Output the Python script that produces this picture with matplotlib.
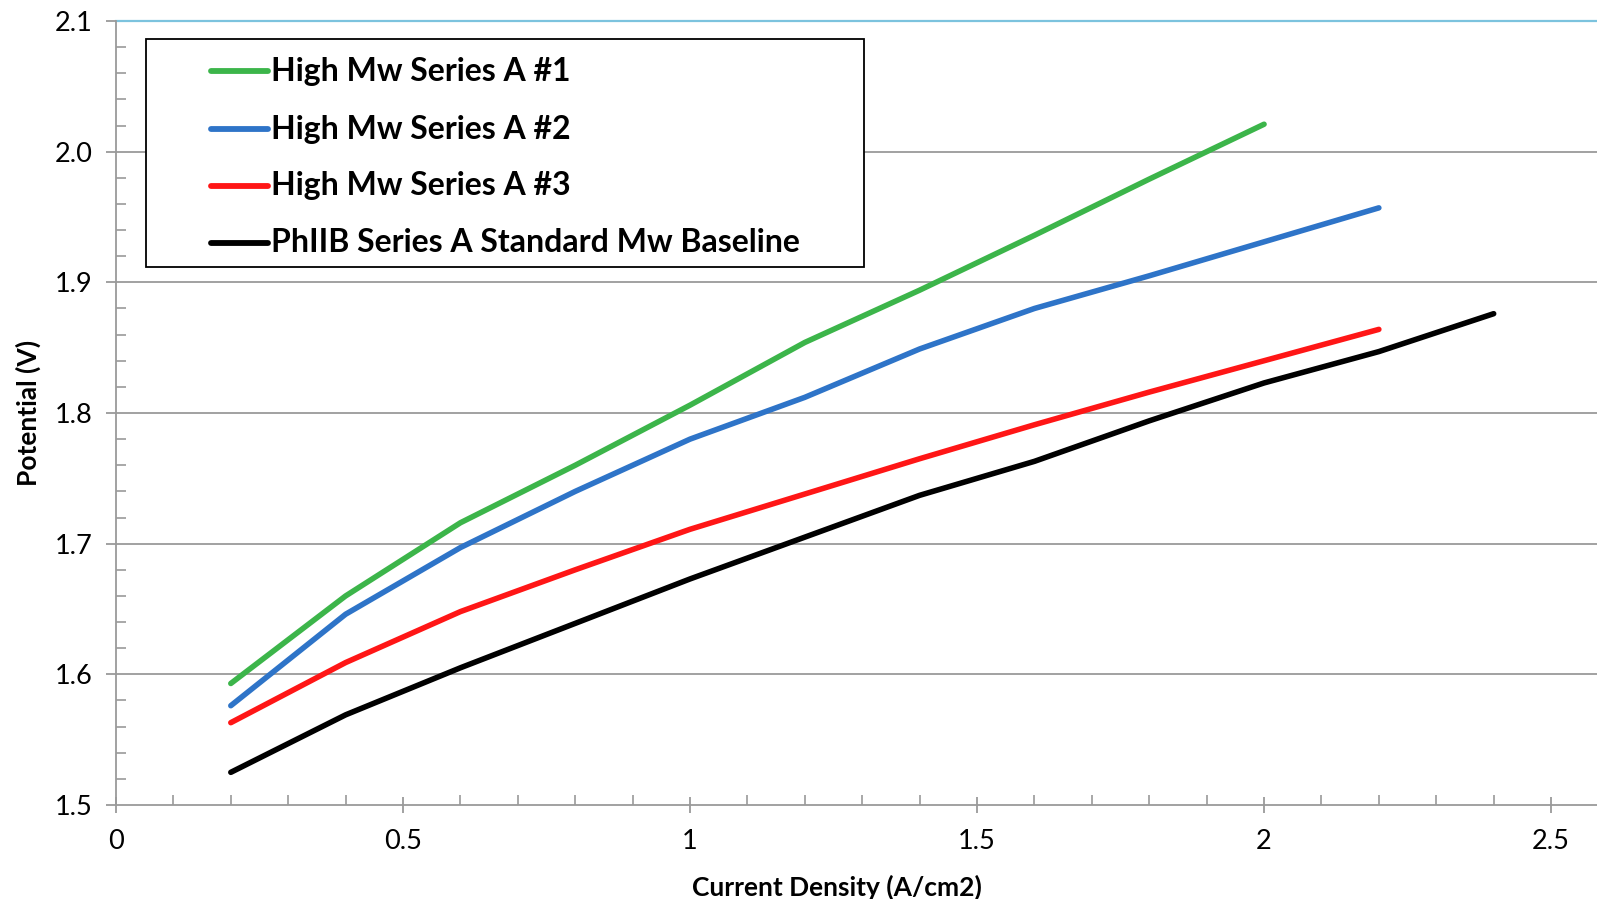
import matplotlib.pyplot as plt
from matplotlib.lines import Line2D
from matplotlib.patches import Rectangle
from matplotlib.ticker import MultipleLocator

plt.rcParams['font.family'] = ['Lato', 'DejaVu Sans']

# current density (A/cm2) and cell potential (V)
x_a1 = [0.2, 0.4, 0.6, 0.8, 1.0, 1.2, 1.4, 1.6, 1.8, 2.0]
y_a1 = [1.593, 1.660, 1.716, 1.760, 1.806, 1.854, 1.894, 1.936, 1.979, 2.021]

x_a2 = [0.2, 0.4, 0.6, 0.8, 1.0, 1.2, 1.4, 1.6, 1.8, 2.0, 2.2]
y_a2 = [1.576, 1.646, 1.697, 1.740, 1.780, 1.812, 1.849, 1.880, 1.905, 1.931, 1.957]

x_a3 = [0.2, 0.4, 0.6, 0.8, 1.0, 1.2, 1.4, 1.6, 1.8, 2.0, 2.2]
y_a3 = [1.563, 1.609, 1.648, 1.680, 1.711, 1.738, 1.765, 1.791, 1.816, 1.840, 1.864]

x_base = [0.2, 0.4, 0.6, 0.8, 1.0, 1.2, 1.4, 1.6, 1.8, 2.0, 2.2, 2.4]
y_base = [1.525, 1.569, 1.605, 1.639, 1.673, 1.705, 1.737, 1.763, 1.794, 1.823, 1.847, 1.876]

labels = ["High Mw Series A #1", "High Mw Series A #2", "High Mw Series A #3",
          "PhIIB Series A Standard Mw Baseline"]
colors = ["#3cb54a", "#2e74c8", "#ff1616", "#000000"]

W, H = 1597, 899
fig = plt.figure(figsize=(W / 100, H / 100), dpi=100)
ax = fig.add_axes([116 / W, 1 - 805 / H, 1 - 116 / W, (805 - 21) / H])

grey = "#9a9a9a"
for yv in [1.6, 1.7, 1.8, 1.9, 2.0]:
    ax.axhline(yv, color=grey, lw=1.3, zorder=1)
ax.axhline(2.1, color="#7cc3de", lw=1.6, zorder=1, clip_on=False)

series = [(x_a1, y_a1), (x_a2, y_a2), (x_a3, y_a3), (x_base, y_base)]
for (xs, ys), c in zip(series, colors):
    ax.plot(xs, ys, color=c, lw=4.0, solid_capstyle='round', solid_joinstyle='round', zorder=3)

ax.set_xlim(0, 2.58)
ax.set_ylim(1.5, 2.1)
ax.xaxis.set_minor_locator(MultipleLocator(0.1))
ax.yaxis.set_minor_locator(MultipleLocator(0.02))
ax.set_xticks([0, 0.5, 1, 1.5, 2, 2.5])
ax.set_xticklabels(["0", "0.5", "1", "1.5", "2", "2.5"])
ax.set_yticks([1.5, 1.6, 1.7, 1.8, 1.9, 2.0, 2.1])
ax.set_yticklabels(["1.5", "1.6", "1.7", "1.8", "1.9", "2.0", "2.1"])

for s in ["top", "right"]:
    ax.spines[s].set_visible(False)
for s in ["left", "bottom"]:
    ax.spines[s].set_color(grey)
    ax.spines[s].set_linewidth(1.3)

ax.tick_params(axis='x', which='major', direction='inout', length=12, width=1.3,
               color=grey, labelsize=19.5, pad=11)
ax.tick_params(axis='y', which='major', direction='out', length=7, width=1.3,
               color=grey, labelsize=19.5, pad=10)
ax.tick_params(which='minor', direction='in', length=7, width=1.2, color=grey)

ax.set_xlabel("Current Density (A/cm2)", fontsize=19, fontweight='bold')
ax.xaxis.set_label_coords(0.487, -0.089)
ax.set_ylabel("Potential (V)", fontsize=19, fontweight='bold', labelpad=10)


def fx(px):
    return px / W


def fy(py):
    return 1 - py / H


# legend box drawn in figure pixels
fig.patches.append(Rectangle((fx(146), fy(267)), fx(864) - fx(146), fy(39) - fy(267),
                             transform=fig.transFigure, facecolor='white',
                             edgecolor='black', lw=1.3, zorder=5))
rows = [71, 129, 186, 243]
for lab, c, ry in zip(labels, colors, rows):
    fig.lines.append(Line2D([fx(211), fx(268)], [fy(ry), fy(ry)], color=c, lw=4.2,
                            solid_capstyle='round', transform=fig.transFigure, zorder=6))
    fig.text(fx(271), fy(ry), lab, fontsize=23, fontweight='bold', va='center',
             ha='left', zorder=6)

fig.savefig("out.png", dpi=100)
